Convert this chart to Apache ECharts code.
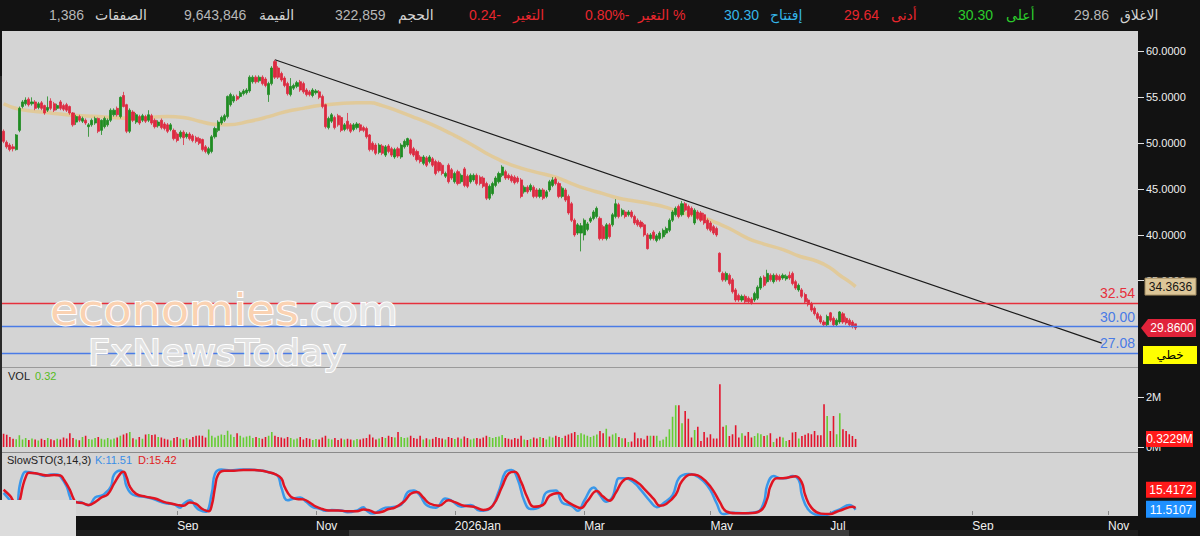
<!DOCTYPE html>
<html><head><meta charset="utf-8">
<script src="https://cdn.jsdelivr.net/npm/echarts@6/dist/echarts.min.js"></script>
<style>html,body{margin:0;padding:0;background:#121212;}#c{width:1200px;height:536px;}</style>
</head><body><div id="c"></div>
<script>
// ---------------- data ----------------
const SLOTS = 360; // trading-day slots on the time axis (data + future space)
const monthTicks = {55:'Sep',99:'Nov',143:'2026Jan',184:'Mar',224:'May',262:'Jul',307:'Sep',350:'Nov'};
const priceTicks = [35,40,45,50,55,60];
const volTicks = [0,2];
// [open, close, low, high]
const ohlc = [
[51.3,50.2,50.0,51.5],[50.1,49.6,49.4,50.3],[49.8,49.3,49.1,50.0],[49.6,49.4,49.1,49.9],[49.3,50.9,49.2,51.0],
[51.4,53.8,51.2,54.0],[54.0,54.5,53.8,54.7],[54.3,54.7,54.1,55.0],[54.8,54.2,54.0,55.0],[54.3,54.5,54.1,55.0],
[54.5,53.8,53.6,54.7],[53.9,54.3,53.7,54.5],[54.4,53.8,53.6,54.6],[54.1,53.3,53.1,54.2],[53.6,53.9,53.4,55.1],
[54.6,53.8,53.6,54.9],[54.3,53.6,53.4,54.5],[53.8,54.1,53.6,54.3],[54.5,53.8,53.6,54.7],[54.1,53.7,53.5,54.3],
[54.2,53.6,53.4,54.4],[54.0,53.3,53.1,54.1],[53.3,52.0,51.8,53.4],[52.3,52.9,52.0,53.1],[52.9,52.5,52.3,53.1],
[52.4,52.7,52.2,52.9],[52.5,52.2,52.0,52.7],[51.8,52.0,50.7,52.2],[52.0,52.5,51.8,52.7],[52.2,52.7,52.0,52.9],
[52.7,51.3,51.1,52.8],[51.4,52.5,50.9,52.6],[51.8,52.7,51.6,52.9],[52.0,52.5,51.8,52.7],[52.5,53.6,52.3,53.8],
[53.1,53.6,52.9,53.8],[53.8,53.1,52.9,54.0],[52.9,55.0,52.7,55.1],[55.2,54.0,53.9,55.6],[54.2,51.3,51.1,54.3],
[51.3,53.6,51.1,53.8],[53.4,52.5,52.3,53.6],[52.3,53.1,52.1,53.3],[52.9,52.2,52.0,53.1],[52.5,53.0,52.3,53.2],
[52.9,52.4,52.2,53.1],[52.5,53.1,52.3,53.6],[53.0,52.2,52.0,53.2],[52.5,51.8,51.6,52.7],[51.9,52.3,51.7,52.5],
[52.5,51.7,51.5,52.7],[52.1,51.6,51.4,52.3],[52.0,51.3,51.1,52.2],[51.5,52.0,51.3,52.2],[51.4,50.5,50.3,51.6],
[51.0,50.3,50.1,51.2],[50.7,51.2,50.5,51.4],[51.2,50.6,49.8,51.4],[50.7,51.0,50.5,51.2],[51.0,50.5,50.3,51.2],
[50.8,50.3,50.1,51.0],[50.6,50.2,50.0,50.8],[50.5,50.0,49.8,50.7],[50.4,49.3,49.1,50.5],[49.6,49.1,48.9,49.8],
[48.9,49.4,48.7,49.6],[49.1,50.7,48.9,50.9],[50.7,51.6,50.5,51.8],[51.4,52.3,51.2,52.5],[52.2,52.8,52.0,53.0],
[52.5,53.0,52.3,53.2],[52.9,55.1,52.7,55.2],[54.2,55.3,54.0,55.5],[54.6,55.1,54.4,55.3],[55.1,54.8,54.6,55.3],
[55.1,55.5,54.9,55.7],[55.4,55.7,55.2,55.9],[55.5,55.8,55.3,56.0],[55.7,57.2,55.5,57.4],[56.7,57.2,56.5,57.4],
[57.2,56.7,56.5,57.4],[56.8,57.2,56.6,57.4],[57.2,56.5,56.3,57.4],[57.0,56.3,56.1,57.2],[55.3,56.5,54.5,56.7],
[56.5,58.2,56.3,58.4],[58.9,57.2,57.0,59.1],[58.2,57.2,57.0,58.4],[57.6,56.9,56.7,57.8],[57.1,56.3,56.1,57.3],
[56.5,55.4,55.2,56.7],[55.3,56.2,55.1,57.1],[56.0,56.3,55.8,56.5],[56.2,56.6,56.0,56.8],[56.7,55.8,55.6,56.9],
[56.5,55.6,55.4,56.7],[55.8,55.3,55.1,56.0],[55.6,55.3,55.1,55.8],[55.2,55.8,55.0,56.0],[55.5,55.7,55.3,55.9],
[55.6,55.0,54.8,55.8],[55.1,54.0,53.8,55.3],[54.2,51.8,51.6,54.3],[51.7,52.7,51.5,52.9],[52.4,53.1,52.2,53.3],
[52.8,51.7,51.5,53.0],[53.0,52.0,51.8,53.2],[52.8,51.4,51.2,53.0],[51.5,52.0,51.3,52.2],[52.4,51.6,51.4,53.3],
[52.0,51.3,51.1,52.2],[51.5,52.0,51.3,52.2],[51.7,52.1,51.5,52.3],[52.0,51.4,51.2,52.2],[51.7,51.4,51.2,51.9],
[51.6,50.7,50.5,51.8],[50.9,49.3,49.1,51.0],[50.0,49.3,49.1,50.2],[49.8,48.9,48.7,50.0],[49.0,49.8,48.8,50.0],
[49.7,48.9,48.7,49.9],[48.7,49.6,48.5,49.8],[49.7,49.1,48.9,49.9],[49.4,48.7,48.5,49.6],[48.5,49.3,48.3,49.5],
[49.4,48.6,48.4,49.6],[48.5,49.8,48.3,50.0],[49.6,50.2,49.4,50.4],[49.8,50.5,49.6,50.6],[50.35,48.9,48.7,50.5],
[49.4,48.7,48.5,49.6],[49.1,48.2,48.0,49.3],[48.5,48.0,47.8,48.7],[47.8,48.5,47.6,48.7],[48.4,47.6,47.4,48.6],
[48.0,48.5,47.8,48.7],[48.3,47.6,47.4,48.5],[48.0,46.7,46.5,48.2],[47.9,47.0,46.8,48.1],[47.6,46.7,46.5,47.8],
[46.4,46.7,46.2,46.9],[47.6,45.8,45.6,47.8],[47.1,46.2,46.0,47.3],[45.8,46.7,45.6,46.9],[46.9,45.6,45.4,47.1],
[45.8,46.5,45.6,46.7],[47.2,45.4,45.2,47.4],[46.4,45.3,45.1,46.6],[45.8,46.5,45.6,46.7],[46.0,46.5,45.8,46.7],
[46.5,45.6,45.4,46.7],[46.3,45.6,45.4,46.5],[46.2,45.3,45.1,46.4],[45.6,44.0,43.8,45.8],[44.0,45.3,43.8,45.5],
[44.5,45.6,44.3,45.8],[45.4,46.2,45.2,46.4],[45.8,46.7,45.6,46.9],[46.5,47.4,46.3,47.6],[46.9,46.2,46.0,47.1],
[46.5,46.2,46.0,46.7],[46.4,45.9,45.7,46.6],[46.3,45.7,45.5,46.5],[46.2,45.8,45.6,46.4],[46.0,44.2,44.0,46.2],
[44.7,45.2,44.5,45.4],[45.2,44.7,44.5,45.4],[44.9,45.4,44.7,45.6],[45.2,44.2,44.0,45.4],[44.9,44.2,44.0,45.1],
[44.2,44.9,44.0,45.1],[44.9,44.0,43.8,45.1],[44.2,44.7,44.0,44.9],[44.9,45.8,44.7,46.0],[45.4,46.0,45.2,46.3],
[46.1,45.6,45.4,46.3],[45.6,44.2,44.0,45.8],[44.2,45.1,44.0,45.3],[44.9,43.8,43.6,45.1],[44.2,42.4,42.2,44.4],
[43.4,41.6,41.4,43.6],[41.6,40.0,39.8,41.8],[40.2,41.1,40.0,41.3],[40.2,41.0,38.2,41.3],[40.0,41.6,39.4,41.8],
[40.6,41.2,40.4,41.4],[41.5,41.8,41.3,42.0],[41.8,42.5,41.6,42.7],[42.0,42.9,41.8,43.1],[41.8,39.6,39.4,42.0],
[40.9,39.6,39.4,41.1],[39.6,41.1,39.4,41.3],[41.1,39.8,39.6,41.3],[41.1,42.2,40.9,42.4],[42.0,43.4,41.8,43.9],
[43.3,42.0,41.8,43.5],[42.2,42.7,42.0,42.9],[42.5,42.0,41.8,42.7],[42.2,42.5,42.0,42.7],[42.5,42.0,41.8,42.7],
[42.0,41.3,41.1,42.2],[41.6,41.1,40.9,41.8],[41.4,40.9,40.7,41.6],[41.1,40.0,39.8,41.3],[40.0,38.5,38.4,40.2],
[39.6,40.0,39.4,40.2],[40.3,39.6,39.4,40.5],[39.4,39.9,39.2,40.1],[39.6,40.2,39.4,40.4],[39.8,40.5,39.6,40.7],
[40.2,40.7,40.0,40.9],[40.5,41.6,40.3,41.8],[41.6,42.5,41.4,42.7],[42.2,42.9,42.0,43.1],[43.1,42.0,41.8,43.3],
[42.2,43.4,42.0,43.7],[43.4,42.7,42.5,43.6],[43.1,42.0,41.8,43.3],[42.9,42.2,42.0,43.1],[41.3,42.7,41.1,42.9],
[42.5,41.8,41.6,42.7],[42.4,41.6,41.4,42.6],[42.2,41.3,41.1,42.4],[41.6,40.7,40.5,41.8],[41.3,40.5,40.3,41.5],
[40.9,40.2,40.0,41.1],[40.7,40.0,39.8,40.9],[38.0,36.0,35.9,38.1],[35.8,35.1,34.9,36.0],[35.1,35.8,34.9,36.0],
[35.6,34.7,34.5,35.8],[35.1,33.8,33.6,35.3],[34.0,32.9,32.7,34.2],[33.4,32.9,32.7,33.6],[32.9,33.3,32.7,33.5],
[33.3,32.7,32.5,33.5],[33.1,32.7,32.5,33.3],[33.0,32.6,32.4,33.2],[32.9,33.6,32.7,33.8],[33.1,34.3,32.9,34.5],
[34.2,35.3,34.0,35.5],[35.4,34.5,34.3,35.6],[34.9,35.8,34.7,36.2],[35.6,35.1,34.9,35.8],[34.9,35.6,34.7,35.8],
[35.6,35.1,34.9,35.8],[35.5,35.1,34.9,35.7],[35.3,35.6,35.1,35.8],[35.2,35.5,35.0,35.7],[35.6,35.3,35.1,36.0],
[35.8,34.7,34.5,36.0],[34.9,34.2,34.0,35.1],[34.0,34.5,33.8,34.7],[34.0,33.3,33.1,34.2],[33.5,32.7,32.5,33.7],
[32.9,32.4,32.2,33.1],[32.5,31.8,31.6,32.7],[32.0,31.4,31.2,32.2],[31.4,30.9,30.7,31.6],[31.1,30.5,30.3,31.3],
[30.5,30.2,30.0,30.7],[30.2,31.1,30.0,31.3],[31.5,30.7,30.5,31.6],[30.9,30.2,30.0,31.1],[30.2,30.7,30.0,30.9],
[30.5,31.6,30.3,31.7],[31.4,30.5,30.3,31.6],[30.9,30.4,30.2,31.1],[30.7,30.2,30.0,30.9],[30.5,30.0,29.8,30.7],
[30.30,29.86,29.64,30.30]
];
// volume in millions
const volM = [
.53,.49,.40,.33,.31,.47,.30,.36,.28,.34, .30,.26,.33,.28,.36,.31,.27,.33,.30,.38,
.34,.55,.36,.30,.27,.40,.45,.32,.30,.36, .40,.33,.30,.36,.30,.34,.38,.45,.50,.55,
.60,.35,.30,.40,.33,.50,.52,.48,.50,.40, .38,.33,.30,.26,.36,.40,.34,.30,.36,.30,
.40,.45,.46,.45,.38,.70,.45,.38,.45,.50, .48,.65,.50,.40,.55,.45,.38,.42,.45,.36,
.40,.36,.33,.40,.45,.60,.45,.40,.38,.34, .40,.36,.30,.34,.40,.30,.36,.33,.28,.32,
.30,.38,.45,.33,.30,.36,.28,.34,.30,.33, .30,.27,.32,.30,.34,.36,.50,.38,.30,.34,
.40,.36,.45,.40,.38,.60,.40,.36,.38,.45, .36,.33,.45,.30,.35,.30,.33,.40,.36,.34,
.30,.40,.36,.32,.38,.33,.42,.36,.30,.34, .36,.33,.38,.45,.40,.36,.40,.42,.48,.36,
.33,.30,.36,.33,.45,.30,.28,.32,.38,.34, .40,.36,.30,.42,.38,.45,.40,.36,.45,.50,
.55,.60,.48,.55,.50,.45,.40,.45,.50,
.64,.55,.73,.42,.50,.55,.40,.35,.35,.20,.22,
.58,.35,.35,.30,.45,.45,.45,.45,.25,.30, .41,.71,1.21,1.67,1.67,.95,1.44,1.13,.38,.68,
.81,.24,.60,.38,.51,.34,.34,2.51,
.81,.87,.44,.51,.87,.38,.55,.45,.60,.38,.44,.55,
.51,.44,.47,.55,.20,.34,.41,.38,.24,.28, .58,.60,.34,.44,.49,.55,.51,.64,.47,.47,
1.71,1.24,.64,1.24,.51,1.35,.71,.64,.51,.44,.3229
];
// moving average (tan line), [slot, price]
const maPts = [[0,54.3],[5,53.7],[15,53.3],[20,53.1],[30,52.9],[41,52.7],[52,52.9],[57,52.8],[62,52.4],[66,52.1],
[71,52.0],[78,52.4],[84,52.9],[89,53.4],[95,53.8],[100,54.1],[106,54.3],[112,54.4],[116,54.4],[120,54.1],
[125,53.5],[131,52.7],[136,52.0],[142,51.0],[147,50.1],[152,49.1],[157,48.2],[162,47.5],[168,46.9],[175,46.3],
[180,45.6],[184,45.1],[190,44.5],[195,44.0],[200,43.7],[205,43.4],[210,43.0],[214,42.5],[218,42.2],[221,42.0],
[226,41.3],[230,40.7],[236,39.6],[241,39.0],[247,38.4],[252,37.7],[258,37.1],[262,36.4],[265,35.6],[268,34.9],[270,34.3636]];
// Slow stochastic %K (blue) and %D (red), [slot, value]
const kPts = [[0,48],[2,32],[4,14],[5,60],[6,86],[7,94],[9,92],[11,89],[13,85],[15,88],[17,88],[18,84],[20,62],[21,40],[22,26],
[24,28],[26,23],[27,21],[29,38],[31,42],[32,46],[34,62],[35,88],[37,97],[38,90],[39,62],[41,44],[44,40],[47,36],[50,28],
[52,25],[54,23],[56,16],[57,24],[59,32],[61,17],[62,11],[64,7],[66,48],[67,90],[69,99],[72,97],[75,99],[78,99],[81,97],
[83,95],[85,91],[87,84],[88,60],[90,32],[92,36],[94,38],[96,28],[98,17],[100,14],[102,9],[104,11],[107,10],[109,6],[112,10],
[114,17],[115,10],[117,3],[119,9],[121,16],[123,17],[126,22],[128,49],[130,53],[132,42],[134,22],[137,16],[140,36],[142,31],
[145,18],[148,22],[151,9],[154,13],[157,53],[159,93],[161,98],[163,76],[165,31],[167,13],[170,18],[172,49],[175,53],[177,27],
[180,20],[182,9],[184,31],[187,60],[189,43],[191,29],[193,40],[194,65],[195,80],[197,80],[200,69],[202,54],[205,29],[207,17],
[209,25],[212,43],[214,80],[217,89],[219,87],[222,72],[224,54],[226,25],[228,2],[231,5],[235,4],[239,7],[241,29],[242,65],
[244,85],[246,80],[248,80],[250,85],[252,76],[253,43],[255,12],[258,0.5],[261,0.5],[263,7],[265,12],[268,22],[270,11.5107]];
const dPts = [[0,55],[2,42],[4,25],[5,30],[6,60],[7,82],[8,92],[10,91],[12,88],[14,86],[16,87],[18,86],[19,78],[21,55],[22,38],
[23,28],[25,26],[27,22],[29,28],[31,38],[33,45],[35,68],[37,90],[38,94],[39,82],[40,62],[42,46],[45,40],[48,36],[51,28],
[53,25],[55,22],[57,20],[59,27],[61,24],[63,13],[65,8],[66,22],[67,60],[68,88],[70,96],[73,96],[76,98],[79,98],[82,96],
[84,93],[86,89],[88,80],[89,62],[91,40],[93,35],[95,34],[97,27],[99,18],[101,13],[103,10],[106,10],[109,8],[112,8],[114,12],
[116,10],[118,5],[120,7],[122,13],[124,16],[127,30],[129,46],[131,50],[133,38],[135,25],[138,20],[141,32],[143,28],[146,20],
[149,18],[152,11],[155,20],[158,62],[160,90],[162,94],[164,72],[166,38],[168,18],[171,22],[173,42],[176,48],[178,32],[181,20],
[183,15],[185,30],[188,52],[190,40],[192,31],[194,48],[196,72],[198,80],[201,70],[203,57],[206,35],[208,20],[210,24],[213,44],
[215,74],[218,88],[220,86],[223,70],[225,52],[227,28],[229,8],[232,4],[236,4],[240,10],[242,35],[243,62],[245,80],[247,80],
[249,82],[251,84],[253,70],[254,44],[256,16],[259,3],[262,2],[264,7],[266,12],[269,18],[270,15.4172]];
const trendPts = [[86,59.1],[348,28.2]];
const levelValues = [32.54, 30.00, 27.08];
const headerTexts = ['1,386','الصفقات','9,643,846','القيمة','322,859','الحجم','0.24-','التغير','0.80%-','التغير %',
  '30.30','إفتتاح','29.64','أدنى','30.30','أعلى','29.86','الاغلاق'];

// ---------------- styles / layout ----------------
const FONT = '"Liberation Sans","DejaVu Sans",sans-serif';
const WFONT = '"DejaVu Sans",sans-serif';
const UP = '#1f8c22', DOWN = '#dd2a40';
const VUP = '#66cc33', VDOWN = '#e3142c';
const PANEL = '#d4d4d4';
const levelColors = ['#e6303c','#4a7be6','#4a7be6'];
const headerX = [49,95,184,259,335,398,469,513,585,638,724,770,844,891,958,1006,1074,1120];
const headerC = ['#b8b8b8','#d4d4d4','#b8b8b8','#d4d4d4','#b8b8b8','#d4d4d4','#e8262d','#e8262d','#e8262d','#e8262d',
  '#35b5e8','#35b5e8','#e8262d','#e8262d','#2ccc2c','#2ccc2c','#b8b8b8','#d4d4d4'];

const cats = [];
for (let i = 0; i < SLOTS; i++) cats.push(String(i));
const volData = volM.map((v, i) => ({value: v, itemStyle: {color: ohlc[i][1] >= ohlc[i][0] ? VUP : VDOWN}}));

const grids = [
  {left: 2, right: 62, top: 31, height: 336},
  {left: 2, right: 62, top: 368, height: 84},
  {left: 2, right: 62, top: 453, height: 63}
].map(g => Object.assign(g, {show: true, backgroundColor: PANEL, borderWidth: 0}));

const hiddenX = gi => ({type: 'category', gridIndex: gi, data: cats, boundaryGap: true,
  axisLine: {show: false}, axisTick: {show: false}, axisLabel: {show: false}, splitLine: {show: false}});

const chart = echarts.init(document.getElementById('c'), null, {renderer: 'svg', width: 1200, height: 536});
chart.setOption({
  animation: false,
  backgroundColor: '#121212',
  grid: grids,
  xAxis: [hiddenX(0), hiddenX(1), {
    type: 'category', gridIndex: 2, data: cats, boundaryGap: true,
    axisLine: {show: false},
    axisTick: {show: true, inside: true, length: 4, alignWithLabel: true, lineStyle: {color: '#8a8a8a'},
      interval: idx => monthTicks[idx] !== undefined},
    axisLabel: {interval: idx => monthTicks[idx] !== undefined, formatter: (v, idx) => monthTicks[idx] || '',
      color: '#f0f0f0', fontSize: 12, fontFamily: FONT, align: 'left', margin: 4},
    splitLine: {show: false}
  }],
  yAxis: [
    {type: 'value', gridIndex: 0, position: 'right', min: 25.5943, max: 62.2355, splitLine: {show: false},
     axisLine: {show: false},
     axisTick: {show: true, customValues: priceTicks, length: 6, lineStyle: {color: '#e0e0e0'}},
     axisLabel: {customValues: priceTicks, formatter: v => v.toFixed(4), color: '#f0f0f0', fontSize: 11, fontFamily: FONT, margin: 8}},
    {type: 'value', gridIndex: 1, position: 'right', min: -0.2, max: 3.16, splitLine: {show: false},
     axisLine: {show: false},
     axisTick: {show: true, customValues: volTicks, length: 6, lineStyle: {color: '#e0e0e0'}},
     axisLabel: {customValues: volTicks, formatter: v => v + 'M', color: '#f0f0f0', fontSize: 11, fontFamily: FONT, margin: 8}},
    {type: 'value', gridIndex: 2, position: 'right', min: -2.174, max: 134.8, splitLine: {show: false},
     axisLine: {show: false}, axisTick: {show: false}, axisLabel: {show: false}}
  ],
  series: [
    {type: 'candlestick', xAxisIndex: 0, yAxisIndex: 0, data: ohlc, barWidth: 2.6,
     itemStyle: {color: UP, color0: DOWN, borderColor: UP, borderColor0: DOWN, borderWidth: 0.8},
     markLine: {silent: true, symbol: 'none', animation: false,
       data: levelValues.map((v, k) => ({yAxis: v,
         lineStyle: {color: levelColors[k], width: 1.3, type: 'solid', opacity: 1},
         label: {show: true, position: 'insideEndTop', formatter: v.toFixed(2), color: levelColors[k], fontSize: 14, fontFamily: FONT, distance: 3}}))}},
    {type: 'line', xAxisIndex: 0, yAxisIndex: 0, data: maPts, smooth: 0.5, symbol: 'none', z: 1,
     lineStyle: {color: '#e2c994', width: 3.5, opacity: 0.9}},
    {type: 'line', xAxisIndex: 0, yAxisIndex: 0, data: trendPts, symbol: 'none', z: 4,
     lineStyle: {color: '#1a1a1a', width: 1.2}},
    {type: 'bar', xAxisIndex: 1, yAxisIndex: 1, data: volData, barWidth: 1.6},
    {type: 'line', xAxisIndex: 2, yAxisIndex: 2, data: kPts, smooth: 0.45, symbol: 'none',
     lineStyle: {color: '#3a98ea', width: 2.5}},
    {type: 'line', xAxisIndex: 2, yAxisIndex: 2, data: dPts, smooth: 0.45, symbol: 'none',
     lineStyle: {color: '#e01422', width: 2.5}}
  ]
});

// ---------------- annotations (graphic) ----------------
const g = [];
function txt(x, y, text, color, size, align, extra, elExtra) {
  g.push(Object.assign({type: 'text', x: x, y: y, z: 120, silent: true,
    style: Object.assign({text: text, fill: color, fontSize: size, fontFamily: FONT,
      align: align || 'left', textAlign: align || 'left', verticalAlign: 'middle', textVerticalAlign: 'middle'}, extra || {})}, elExtra || {}));
}
function rect(x, y, w, h, fill, z, stroke) {
  g.push({type: 'rect', z: z || 90, silent: true, shape: {x: x, y: y, width: w, height: h},
    style: stroke ? {fill: fill, stroke: stroke, lineWidth: 1} : {fill: fill}});
}
// header
headerTexts.forEach((t, k) => txt(headerX[k], 15, t, headerC[k], 14));
// separators / frame pieces
rect(2, 367, 1136, 1, '#9a9a9a', 95);
rect(2, 452, 1136, 1, '#8a8a8a', 95);
rect(0, 76, 2, 424, '#2a2a2a', 95);
rect(0, 500, 76, 36, '#dcdcdc', 96);
rect(76, 530, 1062, 6, '#1e1e1e', 96);
rect(349, 530, 500, 6, '#3c3c3c', 97);
// panel titles
txt(8, 376, 'VOL', '#222222', 11);
txt(35, 376, volM[volM.length - 1].toFixed(2), '#55bb22', 11);
const lastK = kPts[kPts.length - 1][1], lastD = dPts[dPts.length - 1][1];
txt(7, 460, 'SlowSTO(3,14,3)', '#222222', 11);
txt(95, 460, 'K:' + lastK.toFixed(2), '#3a8ee6', 11);
txt(138, 460, 'D:' + lastD.toFixed(2), '#e02020', 11);
// watermark
txt(50, 311, 'economies', '#fad2b2', 43, 'left', {fontFamily: WFONT, stroke: '#ffffff', lineWidth: 2}, {scaleX: 1.07});
txt(297, 311, '.com', '#e6e6e6', 41, 'left', {fontFamily: WFONT, stroke: '#ffffff', lineWidth: 2});
txt(88, 353, 'FxNewsToday', '#e2e2e2', 36, 'left', {fontFamily: WFONT, stroke: '#ffffff', lineWidth: 2}, {scaleX: 1.06});

// value boxes on the right scale
const lastBar = ohlc[ohlc.length - 1];
const yMA = chart.convertToPixel({yAxisIndex: 0}, maPts[maPts.length - 1][1]);
const yClose = chart.convertToPixel({yAxisIndex: 0}, lastBar[1]);
const yVol = chart.convertToPixel({yAxisIndex: 1}, volM[volM.length - 1]);
const yK = chart.convertToPixel({yAxisIndex: 2}, lastK);
rect(1145, yMA - 8.5, 51, 17, '#dcc698', 110, '#a08a60');
txt(1170.5, yMA, maPts[maPts.length - 1][1].toFixed(4), '#151515', 12, 'center');
g.push({type: 'polygon', z: 110, silent: true, shape: {points: [[1141, yClose], [1148, yClose - 9], [1196, yClose - 9], [1196, yClose + 9], [1148, yClose + 9]]},
  style: {fill: '#e0233a'}});
txt(1172, yClose, lastBar[1].toFixed(4), '#ffffff', 12, 'center');
rect(1143, 346, 54, 18, '#ffff00', 110);
txt(1170, 355, 'خطي', '#000000', 12, 'center');
rect(1146, yVol - 8, 47, 16, '#ff1a1a', 110);
txt(1169.5, yVol, volM[volM.length - 1].toFixed(4) + 'M', '#ffffff', 12, 'center');
rect(1146, yK - 9, 50, 17, '#1e90ff', 110);
txt(1171, yK, lastK.toFixed(4), '#ffffff', 12, 'center');
rect(1146, yK - 28, 50, 16, '#ff1a1a', 110);
txt(1171, yK - 20, lastD.toFixed(4), '#ffffff', 12, 'center');
chart.setOption({graphic: {elements: g}});
</script>
</body></html>
